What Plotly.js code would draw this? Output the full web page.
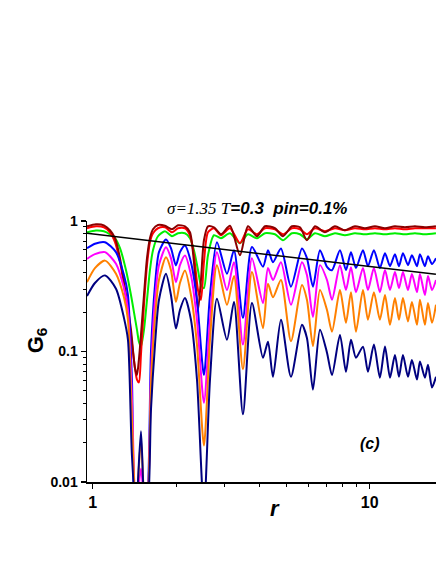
<!DOCTYPE html>
<html>
<head>
<meta charset="utf-8">
<script src="https://cdn.plot.ly/plotly-3.0.1.min.js"></script>
<style>
  html, body { margin: 0; padding: 0; background: #fff; }
  #chart { width: 436px; height: 564px; }
</style>
</head>
<body>
<div id="chart"></div>
<script>
// r grid for the four lower curves (blue, magenta, orange, navy)
const rLow = [0.954, 1.019, 1.108, 1.214, 1.297, 1.341, 1.386, 1.433, 1.494, 1.545,
    1.584, 1.624, 1.679, 1.735, 1.839, 1.917, 1.998, 2.066, 2.154, 2.264,
    2.380, 2.522, 2.652, 2.810, 3.054, 3.237, 3.488, 3.759, 4.120, 4.295,
    4.477, 4.784, 5.199, 5.695, 5.937, 6.242, 6.616, 7.014, 7.312, 7.813,
    8.212, 8.561, 8.924, 9.459, 9.860, 10.36, 10.89, 11.36, 11.84, 12.34,
    12.76, 13.19, 13.75, 14.21, 14.82, 15.19, 15.83, 16.24, 16.79, 17.36];

const blueG = [0.619, 0.67, 0.688, 0.577, 0.385, 0.271, 0.061, 0.006, 0.007, 0.006,
    0.009, 0.1, 0.323, 0.577, 0.721, 0.619, 0.457, 0.577, 0.649, 0.484,
    0.249, 0.066, 0.271, 0.688, 0.394, 0.598, 0.181, 0.633, 0.446, 0.598,
    0.484, 0.616, 0.314, 0.616, 0.519, 0.314, 0.598, 0.446, 0.42, 0.598,
    0.421, 0.577, 0.436, 0.598, 0.451, 0.598, 0.436, 0.567, 0.451, 0.557,
    0.451, 0.567, 0.459, 0.547, 0.451, 0.557, 0.451, 0.538, 0.468, 0.519];

const magentaG = [0.513, 0.557, 0.577, 0.47, 0.306, 0.208, 0.043, 0.006, 0.0127, 0.006,
    0.008, 0.0667, 0.249, 0.459, 0.63, 0.519, 0.34, 0.459, 0.545, 0.385,
    0.175, 0.0405, 0.175, 0.577, 0.296, 0.484, 0.113, 0.519, 0.235, 0.436,
    0.353, 0.484, 0.228, 0.484, 0.385, 0.184, 0.459, 0.353, 0.249, 0.459,
    0.296, 0.443, 0.285, 0.436, 0.296, 0.436, 0.285, 0.421, 0.296, 0.406,
    0.306, 0.406, 0.296, 0.392, 0.285, 0.392, 0.271, 0.379, 0.296, 0.353];

const orangeG = [0.34, 0.435, 0.497, 0.394, 0.26, 0.175, 0.0304, 0.006, 0.0214, 0.006,
    0.008, 0.056, 0.181, 0.353, 0.528, 0.421, 0.24, 0.335, 0.418, 0.271,
    0.113, 0.019, 0.123, 0.459, 0.228, 0.379, 0.073, 0.406, 0.151, 0.33,
    0.26, 0.353, 0.12, 0.323, 0.249, 0.11, 0.296, 0.208, 0.142, 0.296,
    0.166, 0.285, 0.142, 0.296, 0.175, 0.285, 0.175, 0.271, 0.16, 0.257,
    0.175, 0.257, 0.17, 0.24, 0.16, 0.249, 0.16, 0.235, 0.166, 0.228];

const navyG = [0.266, 0.335, 0.383, 0.303, 0.181, 0.123, 0.016, 0.006, 0.0245, 0.006,
    0.007, 0.036, 0.113, 0.248, 0.394, 0.271, 0.15, 0.208, 0.257, 0.175,
    0.061, 0.006, 0.061, 0.254, 0.123, 0.24, 0.033, 0.235, 0.0895, 0.119,
    0.064, 0.175, 0.064, 0.16, 0.127, 0.051, 0.147, 0.098, 0.066, 0.134,
    0.07, 0.123, 0.0895, 0.109, 0.07, 0.113, 0.063, 0.109, 0.063, 0.094,
    0.064, 0.094, 0.064, 0.086, 0.061, 0.084, 0.063, 0.079, 0.053, 0.064];

// r grid for the three upper curves (dark red, red, green)
const rHigh = [0.954, 1.028, 1.098, 1.155, 1.204, 1.255, 1.319, 1.375, 1.421, 1.445,
    1.469, 1.494, 1.532, 1.571, 1.610, 1.651, 1.721, 1.824, 1.933, 2.032,
    2.154, 2.245, 2.321, 2.400, 2.460, 2.522, 2.608, 2.741, 2.906, 3.131,
    3.403, 3.636, 3.919, 4.188, 4.551, 4.864, 5.242, 5.603, 5.937, 6.346,
    6.897, 7.494, 8.143, 8.850, 9.616, 10.45, 11.36, 12.34, 13.41, 14.57,
    15.83, 17.35];

const darkRedG = [0.911, 0.944, 0.927, 0.849, 0.738, 0.519, 0.271, 0.147, 0.075, 0.066,
    0.087, 0.134, 0.271, 0.519, 0.738, 0.864, 0.932, 0.919, 0.864, 0.927,
    0.911, 0.82, 0.484, 0.208, 0.353, 0.712, 0.911, 0.895, 0.791, 0.919,
    0.547, 0.911, 0.764, 0.911, 0.88, 0.764, 0.911, 0.895, 0.712, 0.911,
    0.82, 0.911, 0.849, 0.911, 0.88, 0.911, 0.88, 0.911, 0.895, 0.911,
    0.895, 0.911];

const redG = [0.88, 0.911, 0.895, 0.82, 0.688, 0.484, 0.257, 0.134, 0.075, 0.061,
    0.058, 0.0946, 0.228, 0.459, 0.688, 0.806, 0.88, 0.895, 0.82, 0.88,
    0.88, 0.778, 0.547, 0.296, 0.249, 0.484, 0.82, 0.88, 0.778, 0.88,
    0.676, 0.864, 0.791, 0.88, 0.864, 0.791, 0.88, 0.864, 0.791, 0.88,
    0.834, 0.88, 0.849, 0.88, 0.864, 0.88, 0.864, 0.88, 0.864, 0.88,
    0.88, 0.88];

const greenG = [0.82, 0.845, 0.834, 0.791, 0.738, 0.619, 0.421, 0.271, 0.181, 0.147,
    0.119, 0.109, 0.147, 0.249, 0.421, 0.598, 0.764, 0.834, 0.764, 0.806,
    0.806, 0.738, 0.598, 0.421, 0.323, 0.306, 0.547, 0.778, 0.738, 0.806,
    0.676, 0.791, 0.738, 0.806, 0.791, 0.712, 0.806, 0.791, 0.725, 0.806,
    0.764, 0.806, 0.778, 0.806, 0.791, 0.806, 0.791, 0.806, 0.791, 0.806,
    0.791, 0.806];

// straight power-law guide line
const rFit = [0.954, 17.35];
const fitG = [0.806, 0.39];

const xTickVals = [1, 10];
const xTickText = ['1', '10'];
const xMinorVals = [2, 3, 4, 5, 6, 7, 8, 9, 20];
const yTickVals = [0.01, 0.1, 1];
const yTickText = ['0.01', '0.1', '1'];
const yMinorVals = [0.02, 0.03, 0.04, 0.05, 0.06, 0.07, 0.08, 0.09,
    0.2, 0.3, 0.4, 0.5, 0.6, 0.7, 0.8, 0.9];

const sans = 'Liberation Sans, Arial, sans-serif';
const serif = 'Liberation Serif, Times New Roman, serif';

function curve(x, y, color, width) {
    return {
        type: 'scatter',
        mode: 'lines',
        x: x,
        y: y,
        line: { color: color, width: width || 2, shape: 'spline', smoothing: 0.7 },
        hoverinfo: 'skip'
    };
}

const data = [
    curve(rHigh, greenG, '#00ee00'),
    curve(rHigh, redG, '#ff0000'),
    curve(rHigh, darkRedG, '#8b0000'),
    curve(rLow, blueG, '#0000ff'),
    curve(rLow, magentaG, '#ff00ff'),
    curve(rLow, orangeG, '#ff8000'),
    curve(rLow, navyG, '#000080'),
    { type: 'scatter', mode: 'lines', x: rFit, y: fitG,
      line: { color: '#000', width: 1.5 }, hoverinfo: 'skip' }
];

const layout = {
    width: 436,
    height: 564,
    margin: { l: 87, r: 0, t: 221, b: 82 },
    paper_bgcolor: '#fff',
    plot_bgcolor: '#fff',
    showlegend: false,
    xaxis: {
        type: 'log',
        range: [Math.log10(0.954), Math.log10(17.36)],
        showline: true, linecolor: '#000', linewidth: 1.5,
        showgrid: false, zeroline: false,
        ticks: 'outside', ticklen: 5, tickwidth: 1.5, tickcolor: '#000',
        tickmode: 'array', tickvals: xTickVals, ticktext: xTickText,
        tickfont: { family: sans, size: 16, color: '#000', weight: 'bold' },
        minor: { tickmode: 'array', tickvals: xMinorVals, ticks: 'outside',
                 ticklen: 3, tickwidth: 1, tickcolor: '#000', showgrid: false }
    },
    yaxis: {
        type: 'log',
        range: [-2, 0],
        showline: true, linecolor: '#000', linewidth: 1.5,
        showgrid: false, zeroline: false,
        ticks: 'outside', ticklen: 5, tickwidth: 1.5, tickcolor: '#000',
        tickmode: 'array', tickvals: yTickVals, ticktext: yTickText,
        tickfont: { family: sans, size: 14, color: '#000', weight: 'bold' },
        minor: { tickmode: 'array', tickvals: yMinorVals, ticks: 'outside',
                 ticklen: 3, tickwidth: 1, tickcolor: '#000', showgrid: false }
    },
    annotations: [
        {
            xref: 'paper', yref: 'paper', x: 0.2235, y: 1.049,
            xanchor: 'left', yanchor: 'middle', showarrow: false,
            text: '<span style="font-family:' + serif + ';font-style:italic">\u03c3=1.35 T</span>' +
                  '<b><i>=0.3\u00a0\u00a0pin=0.1%</i></b>',
            font: { family: sans, size: 17, color: '#000' }
        },
        {
            xref: 'paper', yref: 'paper', x: 0.811, y: 0.149,
            xanchor: 'center', yanchor: 'middle', showarrow: false,
            text: '<b><i>(c)</i></b>',
            font: { family: sans, size: 16, color: '#000' }
        },
        {
            xref: 'paper', yref: 'paper', x: 0.5387, y: -0.1,
            xanchor: 'center', yanchor: 'middle', showarrow: false,
            text: '<b><i>r</i></b>',
            font: { family: sans, size: 22, color: '#000' }
        },
        {
            xref: 'paper', yref: 'paper', x: -0.143, y: 0.543,
            xanchor: 'center', yanchor: 'middle', showarrow: false, textangle: -90,
            text: '<b>G<sub>6</sub></b>',
            font: { family: sans, size: 22, color: '#000' }
        }
    ]
};

Plotly.newPlot('chart', data, layout, { displayModeBar: false, staticPlot: true });
</script>
</body>
</html>
